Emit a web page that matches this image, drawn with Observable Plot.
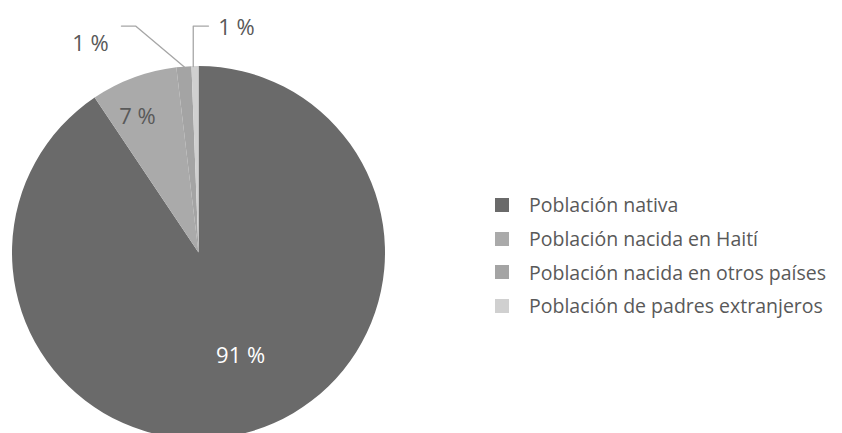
<!DOCTYPE html>
<html>
<head>
<meta charset="utf-8">
<script src="https://cdn.jsdelivr.net/npm/d3@7"></script>
<script src="https://cdn.jsdelivr.net/npm/@observablehq/plot@0.6"></script>
<style>
  html, body { margin: 0; padding: 0; background: #fff; }
  #chart { position: relative; width: 842px; height: 433px; overflow: hidden; font-family: "Open Sans", sans-serif; }
  #chart svg.plotmain { position: absolute; left: 0; top: 0; }
  #legend { position: absolute; left: 495px; top: 188px; }
  .lg-swatches { font-family: "Open Sans", sans-serif; font-size: 19.5px; color: #595959; margin: 0; }
  .lg-swatch { height: 33.7px; padding-bottom: 0 !important; }
  .lg-swatch > svg { margin-right: 20px !important; }
</style>
</head>
<body>
<div id="chart"><div id="legend"></div></div>
<script>
// ---- data ----
const categories = [
  "Población nativa",
  "Población nacida en Haití",
  "Población nacida en otros países",
  "Población de padres extranjeros"
];
const shares = [90.6, 7.5, 1.3, 0.6];
const labels = ["91 %", "7 %", "1 %", "1 %"];
const colors = ["#6a6a6a", "#aaaaaa", "#a4a4a4", "#d0d0d0"];

// ---- geometry ----
const W = 842, H = 433;
const cx = 198.5, cy = 252.5, R = 186.5;

const table = categories.map((c, i) => ({category: c, value: shares[i], label: labels[i]}));
const arcs = d3.pie().sort(null).value(d => d.value)(table);
const mid = a => (a.startAngle + a.endAngle) / 2;
const polar = (ang, r) => ({x: r * Math.sin(ang), y: r * Math.cos(ang)});

// inside labels (native, Haiti) in pie units
const inside = [
  {x: 0.223, y: -0.550, label: arcs[0].data.label, fill: "#ffffff"},
  {x: -0.330, y: 0.732, label: arcs[1].data.label, fill: "#595959"}
];

// outside labels with leader lines (otros, padres)
const oA = arcs[2], pA = arcs[3];
const oRim = polar(mid(oA), 1.0), pRim = polar(mid(pA), 1.0);
const leaderY = 1.217;
const leaders = [
  {id: "o", x: oRim.x, y: oRim.y}, {id: "o", x: -0.340, y: leaderY}, {id: "o", x: -0.416, y: leaderY},
  {id: "p", x: pRim.x - 0.012, y: pRim.y}, {id: "p", x: pRim.x - 0.012, y: leaderY}, {id: "p", x: 0.051, y: leaderY}
];
const outside = [
  {x: -0.582, y: 1.123, label: oA.data.label},
  {x: 0.201, y: 1.209, label: pA.data.label}
];

// pie mark drawn through Plot's scales
function pieMark(index, scales) {
  const x0 = scales.x(0), y0 = scales.y(0);
  const rad = scales.x(1) - scales.x(0);
  const arcGen = d3.arc().innerRadius(0).outerRadius(rad);
  const g = d3.create("svg:g").attr("transform", `translate(${x0},${y0})`);
  g.selectAll("path").data(arcs).join("path")
    .attr("d", arcGen)
    .attr("fill", d => scales.color(d.data.category));
  return g.node();
}

const plot = Plot.plot({
  width: W, height: H,
  margin: 0,
  x: {domain: [-1, 1], range: [cx - R, cx + R], axis: null},
  y: {domain: [-1, 1], range: [cy + R, cy - R], axis: null},
  color: {domain: categories, range: colors},
  style: {fontFamily: "Open Sans, sans-serif", background: "transparent", overflow: "hidden"},
  marks: [
    pieMark,
    Plot.text(inside, {x: "x", y: "y", text: "label", fill: "fill", fontSize: 22}),
    Plot.line(leaders, {x: "x", y: "y", z: "id", stroke: "#a6a6a6", strokeWidth: 1.3, curve: "linear"}),
    Plot.text(outside, {x: "x", y: "y", text: "label", fill: "#595959", fontSize: 22})
  ]
});
plot.classList.add("plotmain");
document.getElementById("chart").prepend(plot);

const legend = Plot.legend({
  color: {domain: categories, range: colors},
  columns: 1,
  swatchSize: 14,
  className: "lg"
});
document.getElementById("legend").appendChild(legend);
</script>
</body>
</html>
